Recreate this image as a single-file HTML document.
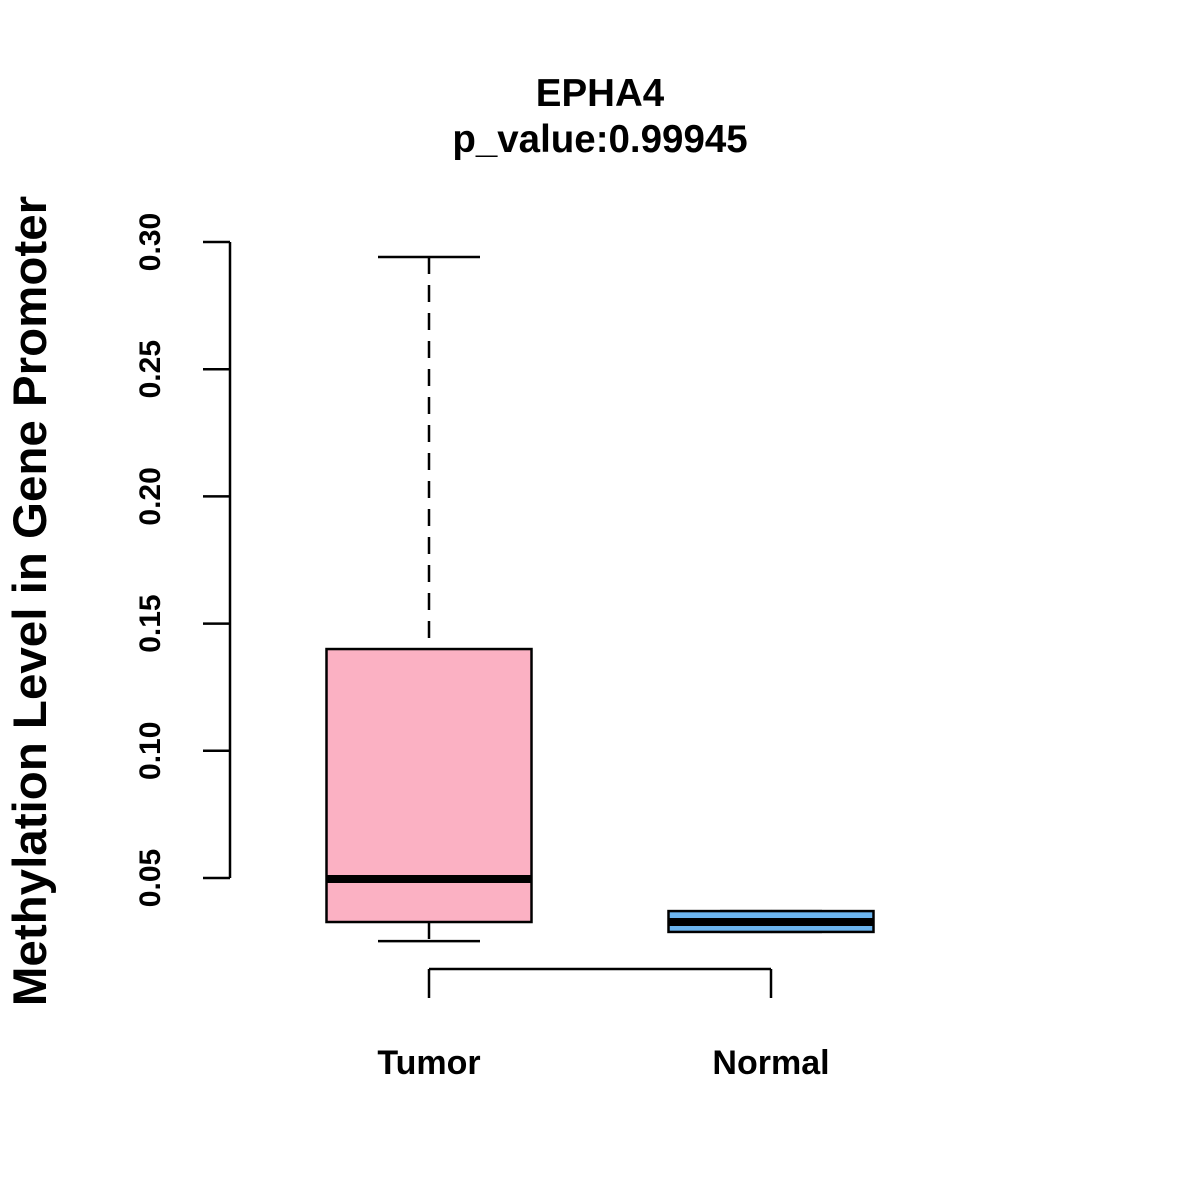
<!DOCTYPE html>
<html><head><meta charset="utf-8"><style>body{margin:0;background:#fff}svg{display:block;font-family:"Liberation Sans",Arial,sans-serif;font-weight:bold}</style></head>
<body>
<svg id="c" width="1200" height="1200">
<text x="600" y="106" font-size="38.5" text-anchor="middle">EPHA4</text>
<text x="600" y="152" font-size="38.5" text-anchor="middle">p_value:0.99945</text>
<text transform="translate(46,601) rotate(-90)" font-size="47.5" text-anchor="middle">Methylation Level in Gene Promoter</text>
<g id="g"></g>
</svg>
<script>
const categories=["Tumor","Normal"];
const mins=[0.0252,0.0288];
const q1s=[0.0327,0.0288];
const medians=[0.0496,0.0327];
const q3s=[0.140,0.0370];
const maxs=[0.2941,0.0370];
const colors=["#FBB1C3","#6CB4EE"];
const yTicks=[0.05,0.10,0.15,0.20,0.25,0.30];
const yLabels=["0.05","0.10","0.15","0.20","0.25","0.30"];
const NS="http://www.w3.org/2000/svg";
const g=document.getElementById('g');
function y(v){return 878-(v-0.05)*2544;}
function x(i){return 429+i*342;}
function mk(t,a){const e=document.createElementNS(NS,t);for(const k in a)e.setAttribute(k,a[k]);g.appendChild(e);return e;}
let ax=mk('line',{x1:230,x2:230,y1:y(yTicks[0]),y2:y(yTicks[yTicks.length-1]),stroke:'#000','stroke-width':2.5});


yTicks.forEach((v,i)=>{
 let t=mk('line',{x1:203,x2:230,y1:y(v),y2:y(v),stroke:'#000','stroke-width':2.5});
 
 
 let l=mk('text',{transform:`translate(160,${y(v)}) rotate(-90)`,'font-size':30,'text-anchor':'middle'});
 l.textContent=yLabels[i];
 
 
});
let xa=mk('line',{x1:x(0),x2:x(1),y1:969,y2:969,stroke:'#000','stroke-width':2.5});


categories.forEach((c,i)=>{
 let t=mk('line',{x1:x(i),x2:x(i),y1:969,y2:998,stroke:'#000','stroke-width':2.5});
 
 
 let l=mk('text',{x:x(i),y:1074,'font-size':34,'text-anchor':'middle'});
 l.textContent=c;
 
 
 const hw=102.5,cw=51;
 let w1=mk('line',{x1:x(i),x2:x(i),y1:y(maxs[i]),y2:y(q3s[i]),stroke:'#000','stroke-width':2.5,'stroke-dasharray':'17,11'});
 
 
 let w2=mk('line',{x1:x(i),x2:x(i),y1:y(q1s[i]),y2:y(mins[i]),stroke:'#000','stroke-width':2.5,'stroke-dasharray':'17,11'});
 
 
 let c1=mk('line',{x1:x(i)-cw,x2:x(i)+cw,y1:y(maxs[i]),y2:y(maxs[i]),stroke:'#000','stroke-width':2.5});
 
 
 let c2=mk('line',{x1:x(i)-cw,x2:x(i)+cw,y1:y(mins[i]),y2:y(mins[i]),stroke:'#000','stroke-width':2.5});
 
 
 let b=mk('rect',{x:x(i)-hw,width:2*hw,y:y(q3s[i]),height:y(q1s[i])-y(q3s[i]),fill:colors[i],stroke:'#000','stroke-width':2.5});
 
 
 let m=mk('line',{x1:x(i)-hw,x2:x(i)+hw,y1:y(medians[i]),y2:y(medians[i]),stroke:'#000','stroke-width':8});
 
 
});
</script>
</body></html>
